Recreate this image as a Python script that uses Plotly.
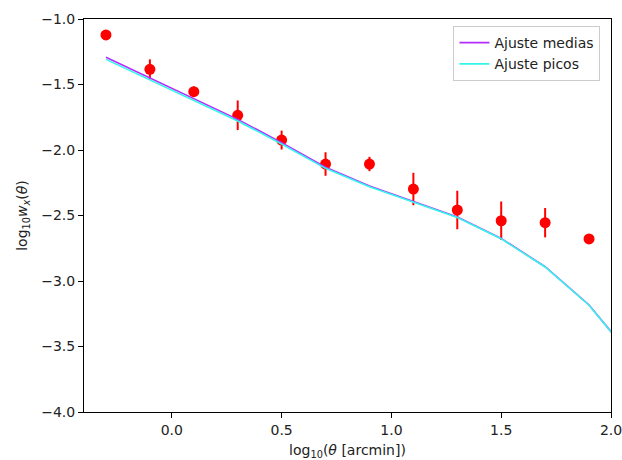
import plotly.graph_objects as go

# Data points (log10 theta, log10 w)
x_data = [-0.3, -0.1, 0.1, 0.3, 0.5, 0.7, 0.9, 1.1, 1.3, 1.5, 1.7, 1.9]
y_data = [-1.122, -1.384, -1.555, -1.735, -1.924, -2.107, -2.107, -2.298, -2.458, -2.540, -2.555, -2.679]
y_err = [0.03, 0.076, 0.04, 0.113, 0.072, 0.09, 0.055, 0.124, 0.147, 0.147, 0.112, 0.02]

# Model fits
x_fit = [-0.3, -0.1, 0.1, 0.3, 0.5, 0.7, 0.9, 1.1, 1.3, 1.5, 1.7, 1.9, 2.1]
y_medias = [-1.292, -1.452, -1.608, -1.766, -1.944, -2.132, -2.275, -2.394, -2.512, -2.675, -2.891, -3.183, -3.59]
y_picos = [-1.308, -1.466, -1.620, -1.778, -1.954, -2.140, -2.281, -2.400, -2.516, -2.678, -2.893, -3.185, -3.59]

x_ticks = [0.0, 0.5, 1.0, 1.5, 2.0]
y_ticks = [-1.0, -1.5, -2.0, -2.5, -3.0, -3.5, -4.0]

font = "DejaVu Sans"

fig = go.Figure()
fig.add_trace(go.Scatter(
    x=x_data, y=y_data, mode="markers",
    marker=dict(color="red", size=11),
    error_y=dict(type="data", array=y_err, color="red", thickness=2, width=0),
    showlegend=False,
))
fig.add_trace(go.Scatter(
    x=x_fit, y=y_medias, mode="lines", name="Ajuste medias",
    line=dict(color="#b52cff", width=1.6),
))
fig.add_trace(go.Scatter(
    x=x_fit, y=y_picos, mode="lines", name="Ajuste picos",
    line=dict(color="#33f6ea", width=1.6),
))

axis_common = dict(
    showgrid=False, zeroline=False, showline=True, linecolor="black", linewidth=1,
    mirror=True, ticks="outside", ticklen=5, tickcolor="black", tickwidth=1,
    tickfont=dict(family=font, size=14, color="#222"),
    automargin=False, ticklabeloverflow="allow",
)
fig.update_xaxes(
    range=[-0.4, 2.0], tickvals=x_ticks, ticktext=[f"{v:.1f}" for v in x_ticks],
    title=dict(text="log<sub>10</sub>(<i>θ</i> [arcmin])", font=dict(family=font, size=14, color="#222"), standoff=9),
    **axis_common,
)
fig.update_yaxes(
    range=[-4.0, -1.0], tickvals=y_ticks, ticktext=[f"−{abs(v):.1f}" for v in y_ticks],
    title=dict(text="log<sub>10</sub><i>w</i><sub><i>x</i></sub>(<i>θ</i>)", font=dict(family=font, size=14, color="#222"), standoff=10),
    **axis_common,
)
fig.update_layout(
    width=622, height=460,
    margin=dict(l=84, r=11, t=19, b=48),
    plot_bgcolor="white", paper_bgcolor="white",
    font=dict(family=font, size=14, color="#222"),
    legend=dict(
        x=0.98, y=0.982, xanchor="right", yanchor="top",
        bgcolor="white", bordercolor="#cccccc", borderwidth=1,
        font=dict(family=font, size=14, color="#222"),
        tracegroupgap=0,
    ),
)
fig.write_html("out.html")
